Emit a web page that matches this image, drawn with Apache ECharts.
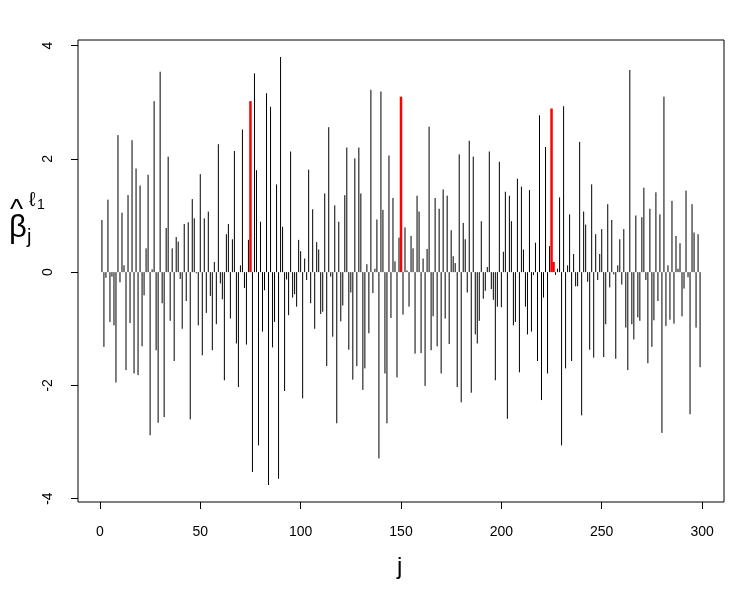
<!DOCTYPE html>
<html>
<head>
<meta charset="utf-8">
<script src="https://cdn.jsdelivr.net/npm/echarts@6/dist/echarts.min.js"></script>
<style>html,body{margin:0;padding:0;background:#fff;}#c{width:736px;height:600px;}</style>
</head>
<body>
<div id="c"></div>
<script>
// estimated coefficients beta_hat_j, j = 1..299
var betaHat = [
 0.92,-1.32,-0.10, 1.28,-0.88,-0.08,-0.94,-1.95, 2.42,-0.18,
 1.05, 0.12,-1.73, 1.36,-0.90, 2.33,-1.79, 1.83,-1.82, 1.53,
-1.31,-0.41, 0.42, 1.72,-2.88, 0.05, 3.02,-1.38,-2.66, 3.54,
-0.55,-2.56, 0.78, 2.04,-0.86, 0.42,-1.57, 0.62, 0.54,-0.12,
-1.00, 0.85,-0.51, 0.88,-2.60, 1.29, 0.95,-0.02,-0.94, 1.73,
-1.47, 0.95,-0.72, 1.07,-0.42,-1.38, 0.18,-0.92, 2.26,-0.20,
-0.48,-1.91, 0.67, 0.85,-0.82, 0.58, 2.14,-1.26,-2.03, 0.12,
 2.52,-0.28,-1.28, 0.57, 3.02,-3.53, 3.51, 1.80,-3.06, 0.89,
-1.05,-0.32, 3.16,-3.76, 2.92,-1.33,-0.88, 1.55,-3.65, 3.80,
 0.80,-2.10,-0.13,-0.76, 2.13,-0.45,-0.39,-0.61, 0.57, 0.37,
-2.23, 0.24,-0.14, 1.81,-0.55, 1.11,-1.00, 0.53, 0.40,-0.74,
-0.70, 1.39,-1.66, 2.56,-0.08,-1.14, 1.18,-2.67, 0.89,-0.87,
-0.59, 1.36, 2.20,-1.37,-0.36,-1.90, 2.01,-1.66, 2.20, 1.39,
-2.08,-1.70, 0.14,-1.08, 3.22,-0.37, 0.06, 0.93,-3.29, 3.19,
 1.10,-1.79,-2.67, 2.06,-0.81, 1.31, 0.19,-1.86, 0.61, 3.10,
-0.75, 0.79, 0.03,-0.61, 0.64, 0.42,-1.44, 1.35, 1.07,-1.43,
 0.24,-2.01, 0.41, 2.57,-1.38,-0.78, 1.31,-1.31, 1.12,-1.79,
 1.46,-0.82, 1.35,-1.27, 0.74, 0.28, 0.16,-2.03, 2.08,-2.30,
 0.87, 0.58,-0.36, 2.32,-2.13, 2.04,-1.10,-1.26,-0.86, 0.90,
-0.47,-0.33, 0.09, 2.13,-0.30,-0.49,-1.91,-0.61, 1.95,-0.62,
 0.36, 1.42,-2.59, 1.35, 0.90,-0.94,-0.88, 1.65,-1.77, 1.51,
 0.40,-0.61,-1.10, 1.45,-1.05,-0.05, 0.52,-1.57, 2.77,-2.26,
-0.45, 2.21,-1.79, 0.46, 2.89, 0.18,-0.05, 0.06, 1.32,-3.06,
 2.93,-1.70, 0.12, 1.02,-1.57, 0.32,-0.25,-0.25, 2.30,-2.53,
 1.07, 0.84,-0.17,-1.37, 1.55,-1.51, 0.67,-0.14, 0.32, 0.76,
-1.50,-0.92, 1.20,-0.27, 0.92,-0.04,-1.53, 0.12, 0.58,-0.22,
 0.76,-0.98,-1.73, 3.57,-0.92,-1.19, 1.00,-0.80,-0.86, 0.97,
 1.49,-0.14,-1.61, 1.12,-1.32,-0.85, 1.41,-0.51, 1.02,-2.84,
 3.10,-0.95, 0.12,-0.84, 1.26,-0.91, 0.64, 0.06, 0.51,-0.78,
-0.29, 1.44,-0.09,-2.51, 1.20, 0.70,-0.98, 0.67,-1.68
];
// indices drawn in red
var redIdx = [75, 150, 225, 226];
var xTicks = [0, 50, 100, 150, 200, 250, 300];
var yTicks = [-4, -2, 0, 2, 4];

var grayData = [], redData = [];
for (var i = 0; i < betaHat.length; i++) {
  var j = i + 1;
  if (redIdx.indexOf(j) >= 0) redData.push([j, betaHat[i]]);
  else grayData.push([j, betaHat[i]]);
}
function makeRender(color, width) {
  return function (params, api) {
    var j = api.value(0), v = api.value(1);
    var p0 = api.coord([j, 0]), p1 = api.coord([j, v]);
    return { type: 'line', shape: { x1: p0[0], y1: p0[1], x2: p1[0], y2: p1[1] },
             style: { stroke: color, lineWidth: width } };
  };
}
var FF = '"Liberation Sans", Arial, Helvetica, sans-serif';
var chart = echarts.init(document.getElementById('c'), null, { renderer: 'canvas' });
chart.setOption({
  animation: false,
  backgroundColor: '#fff',
  grid: { left: 78, right: 12, top: 40, bottom: 98, show: true, borderColor: '#000', borderWidth: 1, backgroundColor: 'transparent' },
  xAxis: {
    type: 'value', min: -10.92, max: 310.92,
    axisLine: { show: false, onZero: false }, splitLine: { show: false },
    axisTick: { show: true, customValues: xTicks, length: 7, lineStyle: { color: '#000', width: 1 } },
    axisLabel: { customValues: xTicks, fontSize: 14, color: '#000', margin: 23, fontFamily: FF }
  },
  yAxis: {
    type: 'value', min: -4.06, max: 4.1,
    axisLine: { show: false, onZero: false }, splitLine: { show: false },
    axisTick: { show: true, customValues: yTicks, length: 7, lineStyle: { color: '#000', width: 1 } },
    axisLabel: { customValues: yTicks, fontSize: 14, color: '#000', margin: 23, rotate: 90, fontFamily: FF }
  },
  series: [
    { type: 'custom', renderItem: makeRender('#000', 1), data: grayData, z: 2 },
    { type: 'custom', renderItem: makeRender('#ff0000', 2.5), data: redData, z: 3 }
  ],
  graphic: [
    { type: 'text', left: 397, top: 555, style: { text: 'j', font: '24px ' + FF, fill: '#000' } },
    { type: 'text', x: 9, y: 213, style: { text: 'β', font: '31px ' + FF, fill: '#000' } },
    { type: 'text', x: 10, y: 196, style: { text: '^', font: '28px ' + FF, fill: '#000' } },
    { type: 'text', x: 27, y: 227, style: { text: 'j', font: '20px ' + FF, fill: '#000' } },
    { type: 'text', x: 29, y: 190, style: { text: 'ℓ', font: '20px ' + FF, fill: '#000' } },
    { type: 'text', x: 37, y: 198, style: { text: '1', font: '14px ' + FF, fill: '#000' } }
  ]
});
</script>
</body>
</html>
